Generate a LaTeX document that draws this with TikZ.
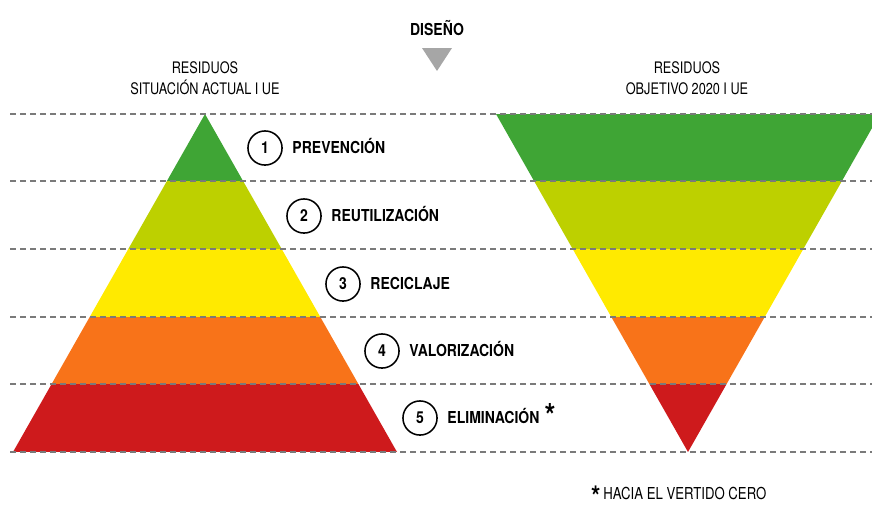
\documentclass[tikz,border=0pt]{standalone}
\usepackage{fontspec}
\setmainfont{TeX Gyre Heros}[FakeStretch=0.8,BoldFeatures={FakeStretch=0.85}]
\usepackage{xcolor}
\usepackage{tikz}
\usetikzlibrary{positioning}
\definecolor{cgreen}{HTML}{3FA535}
\definecolor{clime}{HTML}{BDD000}
\definecolor{cyellow}{HTML}{FFEA00}
\definecolor{corange}{HTML}{F87319}
\definecolor{cred}{HTML}{CE1A1C}
\definecolor{cguide}{HTML}{7A7A7A}
\definecolor{cmark}{HTML}{A6A6A6}
\tikzstyle{level} = [circle, draw=black, line width=1.3pt, minimum size=29pt, inner sep=0pt, text height=10pt, text depth=0pt, font=\fontsize{14}{14}\selectfont\bfseries]
\tikzstyle{levelname} = [inner sep=0pt, text height=10pt, text depth=0pt, font=\fontsize{14}{14}\selectfont\bfseries]
\tikzstyle{header} = [align=center, inner sep=0pt, font=\fontsize{13.5}{18}\selectfont]
\tikzstyle{guide} = [draw=cguide, line width=1pt, dash pattern=on 5pt off 3.5pt]

\begin{document}
\begin{tikzpicture}[x=0.85pt, y=-0.85pt]
    \useasboundingbox (0,0) rectangle (872,505);
    % Bands
    \begin{scope}
        \clip (13,452) -- (205,114) -- (397,452) -- cycle;
        \foreach \ytop/\ybot/\col in {114/181/cgreen, 181/249/clime, 249/317/cyellow, 317/384/corange, 384/452/cred}
            \fill[\col] (0,\ytop) rectangle (440,\ybot);
    \end{scope}
    \begin{scope}
        \clip (496,114) -- (880,114) -- (688,452) -- cycle;
        \foreach \ytop/\ybot/\col in {114/181/cgreen, 181/249/clime, 249/317/cyellow, 317/384/corange, 384/452/cred}
            \fill[\col] (480,\ytop) rectangle (872,\ybot);
    \end{scope}
    % Lines
    \foreach \y in {114,181,249,317,384,452}
        \draw[guide] (10,\y) -- (872,\y);
    % Nodes
    \node (diseno) at (437,28) {\fontsize{14}{14}\selectfont\bfseries DISEÑO};
    \fill[cmark] (422,48) -- (452,48) -- (437,71) -- cycle;
    \node (actual) [header] at (205,78) {RESIDUOS\\SITUACIÓN ACTUAL I UE};
    \node (objetivo) [header] at (687,78) {RESIDUOS\\OBJETIVO 2020 I UE};
    \node (c1) [level] at (265,148) {1};
    \node (c2) [level] at (304,216) {2};
    \node (c3) [level] at (343,284) {3};
    \node (c4) [level] at (382,351) {4};
    \node (c5) [level] at (420,418) {5};
    \node (l1) [levelname, right=8pt of c1] {PREVENCIÓN};
    \node (l2) [levelname, right=8pt of c2] {REUTILIZACIÓN};
    \node (l3) [levelname, right=8pt of c3] {RECICLAJE};
    \node (l4) [levelname, right=8pt of c4] {VALORIZACIÓN};
    \node (l5) [levelname, right=8pt of c5] {ELIMINACIÓN};
    \node (ast) [anchor=base west, inner sep=0pt, font=\fontsize{28}{28}\selectfont\bfseries] at ([xshift=4pt, yshift=-3pt]l5.base east) {*};
    \node (nota) [anchor=west, inner sep=0pt, text height=10pt, text depth=0pt, font=\fontsize{14}{14}\selectfont] at (591,494) {\smash{\raisebox{-0.42em}{\fontsize{24}{24}\selectfont\bfseries *}}\,HACIA EL VERTIDO CERO};
\end{tikzpicture}
\end{document}
